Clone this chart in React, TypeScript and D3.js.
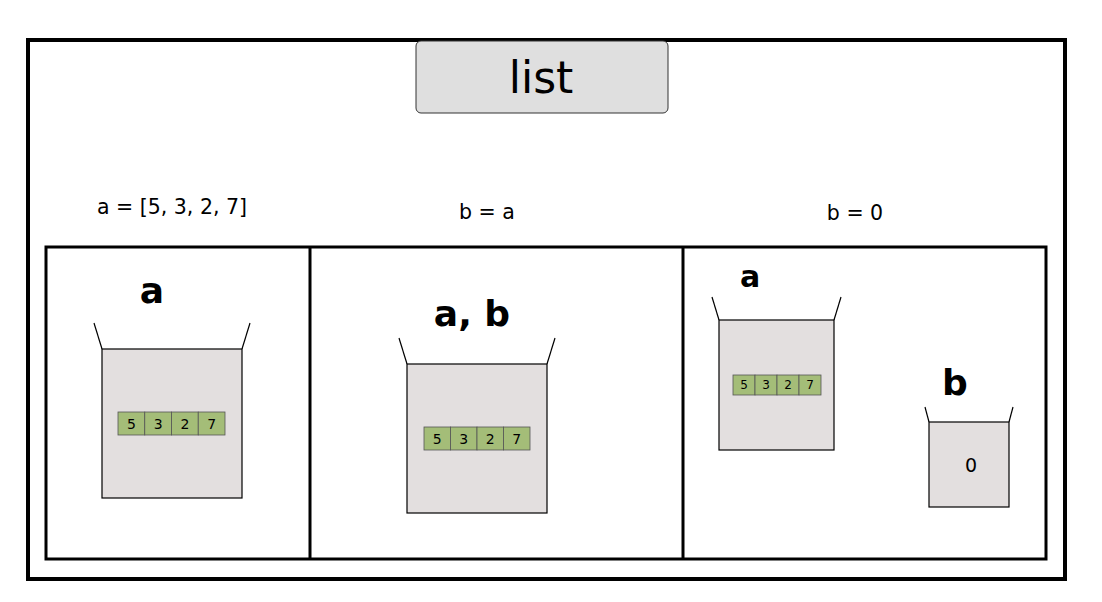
import React from "react";
import * as d3 from "d3";

const arrayValues = [5, 3, 2, 7];
const captions = ["a = [5, 3, 2, 7]", "b = a", "b = 0"];
const titleText = "list";

interface Jar {
  label: string;
  x: number; y: number; w: number; h: number;
  lx: number; ly: number; ls: number;
  cells?: { x: number; y: number; w: number; h: number; fs: number };
  scalar?: string;
  lip: number; rise: number;
}

const jars: Jar[] = [
  { label: "a", x: 102, y: 349, w: 140, h: 149, lx: 152, ly: 303, ls: 36, lip: 8, rise: 26,
    cells: { x: 118, y: 412, w: 107, h: 23, fs: 14 } },
  { label: "a, b", x: 407, y: 364, w: 140, h: 149, lx: 472, ly: 326, ls: 36, lip: 8, rise: 26,
    cells: { x: 424, y: 427, w: 106, h: 23, fs: 14 } },
  { label: "a", x: 719, y: 320, w: 115, h: 130, lx: 750, ly: 287, ls: 30, lip: 7, rise: 23,
    cells: { x: 733, y: 375, w: 88, h: 20, fs: 12 } },
  { label: "b", x: 929, y: 422, w: 80, h: 85, lx: 955, ly: 395, ls: 36, lip: 4, rise: 15, scalar: "0" },
];

const font = "DejaVu Sans, sans-serif";

export default function App() {
  const panelX = d3.scaleLinear().domain([0, 3]).range([46, 1046]);
  const dividers = [310, 683];
  const captionX = [172, 487, 855];
  const captionY = [214, 219, 220];
  return (
    <svg width={1102} height={602} style={{ position: "absolute", left: 0, top: 0 }}>
      <rect x={0} y={0} width={1102} height={602} fill="#fff" />
      <rect x={28} y={40} width={1037} height={539} fill="none" stroke="#000" strokeWidth={4} />
      <rect x={416} y={41} width={252} height={72} rx={5} fill="#dfdfdf" stroke="#333" strokeWidth={1} />
      <text x={541} y={93} textAnchor="middle" fontFamily={font} fontSize={44}>{titleText}</text>
      {captions.map((c, i) => (
        <text key={i} x={captionX[i]} y={captionY[i]} textAnchor="middle" fontFamily={font} fontSize={20.5}>{c}</text>
      ))}
      <rect x={panelX(0)} y={247} width={panelX(3) - panelX(0)} height={312} fill="none" stroke="#000" strokeWidth={3} />
      {dividers.map((d) => (
        <line key={d} x1={d} x2={d} y1={247} y2={559} stroke="#000" strokeWidth={3} />
      ))}
      {jars.map((j, i) => {
        const cx = d3.scaleBand<number>().domain(d3.range(arrayValues.length)).range(j.cells ? [j.cells.x, j.cells.x + j.cells.w] : [0, 0]);
        return (
          <g key={i}>
            <text x={j.lx} y={j.ly} textAnchor="middle" fontFamily={font} fontWeight="bold" fontSize={j.ls}>{j.label}</text>
            <rect x={j.x} y={j.y} width={j.w} height={j.h} fill="#e3dfdf" stroke="#000" strokeWidth={1.2} />
            <line x1={j.x} y1={j.y} x2={j.x - j.lip} y2={j.y - j.rise} stroke="#000" strokeWidth={1.2} />
            <line x1={j.x + j.w} y1={j.y} x2={j.x + j.w + j.lip} y2={j.y - j.rise} stroke="#000" strokeWidth={1.2} />
            {j.cells && arrayValues.map((v, k) => (
              <g key={k}>
                <rect x={cx(k)} y={j.cells!.y} width={cx.bandwidth()} height={j.cells!.h} fill="#a4bd78" stroke="#555" strokeWidth={0.8} />
                <text x={cx(k)! + cx.bandwidth() / 2} y={j.cells!.y + j.cells!.h / 2 + j.cells!.fs * 0.36} textAnchor="middle" fontFamily={font} fontSize={j.cells!.fs}>{v}</text>
              </g>
            ))}
            {j.scalar && (
              <text x={j.x + j.w / 2 + 2} y={j.y + j.h / 2 + 7} textAnchor="middle" fontFamily={font} fontSize={19}>{j.scalar}</text>
            )}
          </g>
        );
      })}
    </svg>
  );
}
